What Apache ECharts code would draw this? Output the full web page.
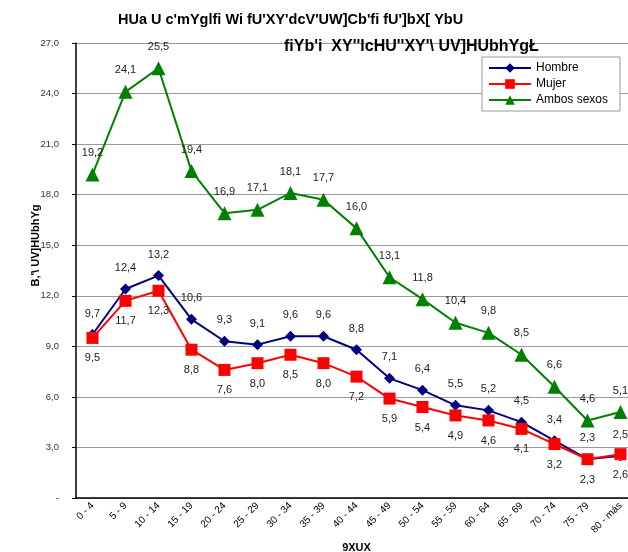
<!DOCTYPE html>
<html>
<head>
<meta charset="utf-8">
<script src="https://cdn.jsdelivr.net/npm/echarts@6/dist/echarts.min.js"></script>
<style>
  html, body { margin: 0; padding: 0; background: #fff; }
  #chart { width: 628px; height: 552px; }
</style>
</head>
<body>
<div id="chart"></div>
<script>
const categories = ['0 - 4', '5 - 9', '10 - 14', '15 - 19', '20 - 24', '25 - 29', '30 - 34', '35 - 39', '40 - 44',
  '45 - 49', '50 - 54', '55 - 59', '60 - 64', '65 - 69', '70 - 74', '75 - 79', '80 - más']
const hombre = [9.7, 12.4, 13.2, 10.6, 9.3, 9.1, 9.6, 9.6, 8.8, 7.1, 6.4, 5.5, 5.2, 4.5, 3.4, 2.3, 2.5]
const mujer = [9.5, 11.7, 12.3, 8.8, 7.6, 8.0, 8.5, 8.0, 7.2, 5.9, 5.4, 4.9, 4.6, 4.1, 3.2, 2.3, 2.6]
const ambos = [19.2, 24.1, 25.5, 19.4, 16.9, 17.1, 18.1, 17.7, 16.0, 13.1, 11.8, 10.4, 9.8, 8.5, 6.6, 4.6, 5.1]

const font = 'Arial, "Liberation Sans", sans-serif'
const fmt = v => v.toFixed(1).replace('.', ',')

const chart = echarts.init(document.getElementById('chart'))

chart.setOption({
  animation: false,
  textStyle: { fontFamily: font },
  title: [
    {
      text: "HUa U c'mYglfi Wi fU'XY'dcV'UW]Cb'fi fU']bX[ YbU",
      left: 113, top: 7,
      textStyle: { fontSize: 14.5, fontWeight: 'bold', color: '#000', fontFamily: font }
    },
    {
      text: "fiYb'i  XY''lcHU''XY'\\ UV]HUbhYgŁ",
      left: 279, top: 34,
      textStyle: { fontSize: 16, fontWeight: 'bold', color: '#000', fontFamily: font }
    }
  ],
  legend: {
    orient: 'vertical',
    left: 482, top: 57,
    padding: [5, 12, 5, 6],
    itemGap: 4,
    itemWidth: 42, itemHeight: 12,
    backgroundColor: '#fff',
    borderColor: '#999',
    borderWidth: 1,
    textStyle: { fontSize: 12, color: '#000', fontFamily: font },
    data: ['Hombre', 'Mujer', 'Ambos sexos']
  },
  grid: { left: 76, right: -9, top: 43, bottom: 54, outerBoundsMode: 'none' },
  xAxis: {
    type: 'category',
    data: categories,
    boundaryGap: true,
    name: '9XUX',
    nameLocation: 'middle',
    nameGap: 42,
    nameTextStyle: { fontSize: 11, fontWeight: 'bold', color: '#000' },
    axisLine: { lineStyle: { color: '#000', width: 1.5 } },
    axisTick: { lineStyle: { color: '#000' }, length: 4 },
    axisLabel: { interval: 0, rotate: 45, fontSize: 10, color: '#000', margin: 6 }
  },
  yAxis: {
    type: 'value',
    min: 0, max: 27, interval: 3,
    name: "B,'\\ UV]HUbhYg",
    nameLocation: 'middle',
    nameGap: 35,
    nameMoveOverlap: false,
    nameRotate: 90,
    nameTextStyle: { fontSize: 11, fontWeight: 'bold', color: '#000', padding: [0, 0, 0, 50] },
    axisLine: { show: true, lineStyle: { color: '#000', width: 1.5 } },
    axisTick: { show: true, lineStyle: { color: '#000' }, length: 4 },
    axisLabel: {
      fontSize: 9.5, color: '#333', margin: 17,
      formatter: v => v === 0 ? '-' : fmt(v)
    },
    splitLine: { lineStyle: { color: '#999', width: 1 } }
  },
  series: [
    {
      name: 'Hombre',
      type: 'line',
      data: hombre,
      color: '#000080',
      lineStyle: { width: 2 },
      symbol: 'diamond',
      symbolSize: 11,
      label: { show: true, position: 'top', distance: 10, fontSize: 11, color: '#222', formatter: p => fmt(p.value) }
    },
    {
      name: 'Mujer',
      type: 'line',
      data: mujer,
      color: '#ff0000',
      lineStyle: { width: 2 },
      symbol: 'rect',
      symbolSize: 12,
      label: { show: true, position: 'bottom', distance: 9, fontSize: 11, color: '#222', formatter: p => fmt(p.value) }
    },
    {
      name: 'Ambos sexos',
      type: 'line',
      data: ambos,
      color: '#008000',
      lineStyle: { width: 2 },
      symbol: 'triangle',
      symbolSize: 14,
      label: { show: true, position: 'top', distance: 9, fontSize: 11, color: '#222', formatter: p => fmt(p.value) }
    }
  ]
})
</script>
</body>
</html>
